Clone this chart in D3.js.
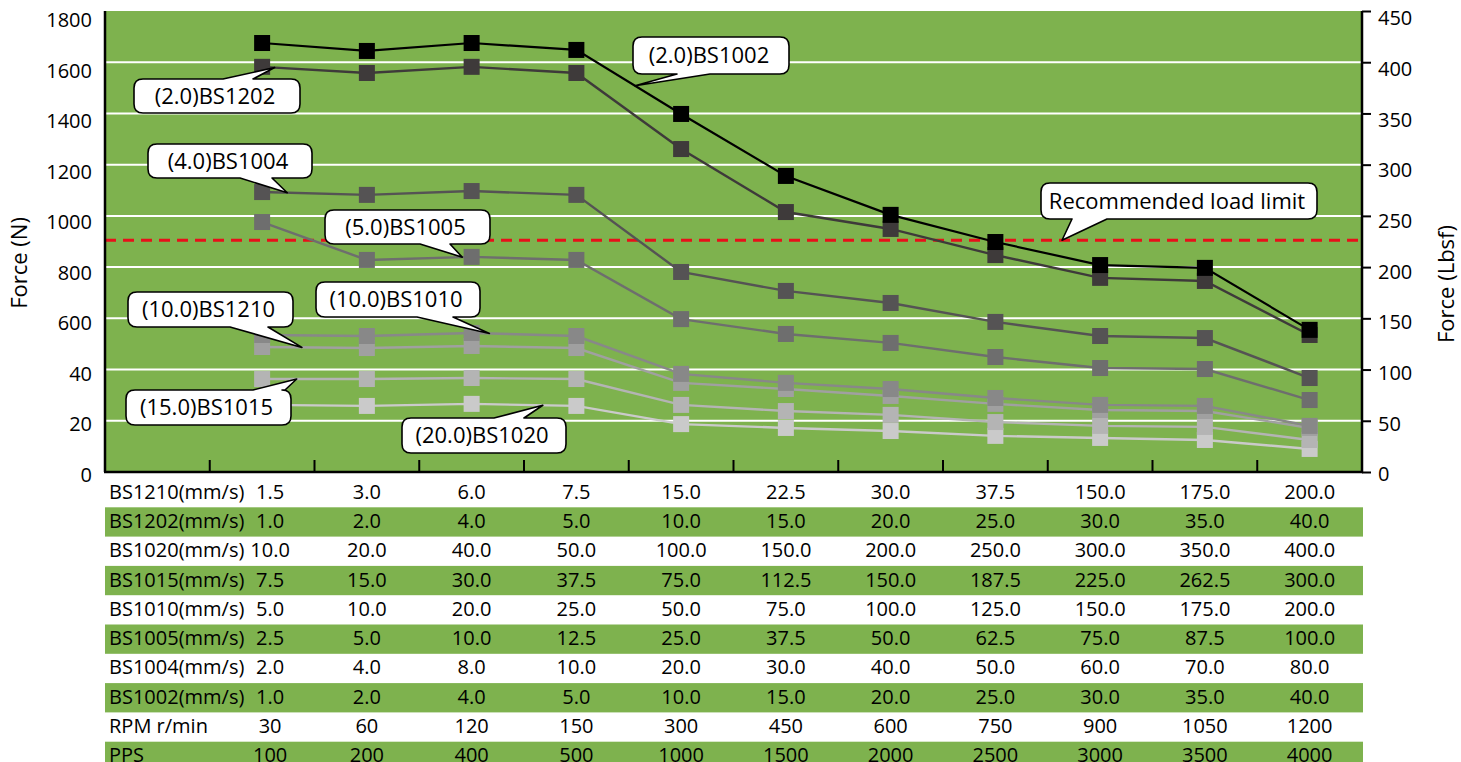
<!DOCTYPE html>
<html>
<head>
<meta charset="utf-8">
<script src="https://cdn.jsdelivr.net/npm/d3@7"></script>
<style>
  body { margin: 0; background: #fff; }
  svg { font-family: 'Open Sans', sans-serif; }
</style>
</head>
<body>
<svg width="1461" height="762"></svg>
<script>
// speed table, one column per point on the chart
const pps = ['100', '200', '400', '500', '1000', '1500', '2000', '2500', '3000', '3500', '4000'];
const rpm = ['30', '60', '120', '150', '300', '450', '600', '750', '900', '1050', '1200'];
const bs1210Speed = ['1.5', '3.0', '6.0', '7.5', '15.0', '22.5', '30.0', '37.5', '150.0', '175.0', '200.0'];
const bs1202Speed = ['1.0', '2.0', '4.0', '5.0', '10.0', '15.0', '20.0', '25.0', '30.0', '35.0', '40.0'];
const bs1020Speed = ['10.0', '20.0', '40.0', '50.0', '100.0', '150.0', '200.0', '250.0', '300.0', '350.0', '400.0'];
const bs1015Speed = ['7.5', '15.0', '30.0', '37.5', '75.0', '112.5', '150.0', '187.5', '225.0', '262.5', '300.0'];
const bs1010Speed = ['5.0', '10.0', '20.0', '25.0', '50.0', '75.0', '100.0', '125.0', '150.0', '175.0', '200.0'];
const bs1005Speed = ['2.5', '5.0', '10.0', '12.5', '25.0', '37.5', '50.0', '62.5', '75.0', '87.5', '100.0'];
const bs1004Speed = ['2.0', '4.0', '8.0', '10.0', '20.0', '30.0', '40.0', '50.0', '60.0', '70.0', '80.0'];
const bs1002Speed = ['1.0', '2.0', '4.0', '5.0', '10.0', '15.0', '20.0', '25.0', '30.0', '35.0', '40.0'];

// force (N)
const bs1002 = [1675, 1644, 1675, 1648, 1398, 1156, 1004, 898, 808, 797, 555];
const bs1202 = [1582, 1558, 1582, 1558, 1261, 1015, 949, 847, 758, 746, 535];
const bs1004 = [1093, 1082, 1097, 1082, 781, 707, 660, 586, 531, 523, 367];
const bs1005 = [976, 828, 840, 828, 597, 539, 504, 449, 406, 402, 281];
const bs1010 = [535, 531, 543, 531, 383, 348, 324, 289, 262, 258, 180];
const bs1210 = [488, 484, 492, 484, 348, 324, 297, 266, 242, 238, 172];
const bs1015 = [363, 363, 367, 363, 262, 238, 223, 195, 180, 176, 125];
const bs1020 = [262, 258, 266, 258, 187, 172, 160, 141, 133, 125, 90];

const loadLimit = 905;

// axis ticks (left labels as printed on the original)
const leftTicks = [0, 200, 400, 600, 800, 1000, 1200, 1400, 1600, 1800];
const leftTickLabels = ['0', '20', '40', '600', '800', '1000', '1200', '1400', '1600', '1800'];
const rightTicks = [0, 50, 100, 150, 200, 250, 300, 350, 400, 450];

const tableRows = [
  { label: 'BS1210(mm/s)', cells: bs1210Speed },
  { label: 'BS1202(mm/s)', cells: bs1202Speed },
  { label: 'BS1020(mm/s)', cells: bs1020Speed },
  { label: 'BS1015(mm/s)', cells: bs1015Speed },
  { label: 'BS1010(mm/s)', cells: bs1010Speed },
  { label: 'BS1005(mm/s)', cells: bs1005Speed },
  { label: 'BS1004(mm/s)', cells: bs1004Speed },
  { label: 'BS1002(mm/s)', cells: bs1002Speed },
  { label: 'RPM r/min', cells: rpm },
  { label: 'PPS', cells: pps },
];

// drawn lightest first so darker series sit on top
const series = [
  { name: 'BS1020', values: bs1020, color: '#cacaca' },
  { name: 'BS1015', values: bs1015, color: '#b4b4b4' },
  { name: 'BS1210', values: bs1210, color: '#a0a0a0' },
  { name: 'BS1010', values: bs1010, color: '#888888' },
  { name: 'BS1005', values: bs1005, color: '#6e6e6e' },
  { name: 'BS1004', values: bs1004, color: '#555354' },
  { name: 'BS1202', values: bs1202, color: '#3e3a3a' },
  { name: 'BS1002', values: bs1002, color: '#000000' },
];

const svg = d3.select('svg');
const GREEN = '#7eb24e';
const PLOT = { LEFT: 105, RIGHT: 1362, TOP: 11, BOTTOM: 472 };
const TABLE_TOP = 478;
const ROW_H = 29.3;
const FONT = 20;
const BIG_FONT = 22;

// scales: first band is the row-label column of the table
const x = d3.scaleBand().domain(['label', ...pps]).range([PLOT.LEFT, PLOT.RIGHT]);
const y = d3.scaleLinear().domain([0, 1800]).range([PLOT.BOTTOM, PLOT.TOP]);
// tick labels sit slightly off the gridlines in the original
const yLabel = d3.scaleLinear().domain([0, 1800]).range([475, 20.5]);
const yRight = d3.scaleLinear().domain([0, 450]).range([PLOT.BOTTOM, PLOT.TOP]);
const yRightLabel = d3.scaleLinear().domain([0, 450]).range([474.5, 18.5]);
const row = d3.scaleBand().domain(tableRows.map(d => d.label))
  .range([TABLE_TOP, TABLE_TOP + ROW_H * tableRows.length]);

const cx = i => x(pps[i]) + x.bandwidth() / 2;

// plot background + gridlines
svg.append('rect')
  .attr('x', PLOT.LEFT).attr('y', PLOT.TOP)
  .attr('width', PLOT.RIGHT - PLOT.LEFT).attr('height', PLOT.BOTTOM - PLOT.TOP)
  .attr('fill', GREEN);

svg.append('g')
  .selectAll('line')
  .data(leftTicks.filter(d => d > 0 && d < 1800))
  .join('line')
  .attr('x1', PLOT.LEFT).attr('x2', PLOT.RIGHT)
  .attr('y1', d => y(d)).attr('y2', d => y(d))
  .attr('stroke', '#fff').attr('stroke-width', 2);

// recommended load limit
svg.append('line')
  .attr('x1', PLOT.LEFT).attr('x2', PLOT.RIGHT)
  .attr('y1', y(loadLimit)).attr('y2', y(loadLimit))
  .attr('stroke', '#e8101a').attr('stroke-width', 3)
  .attr('stroke-dasharray', '11,7');

// series
const line = d3.line()
  .x((d, i) => cx(i))
  .y(d => y(d));

const sg = svg.append('g')
  .selectAll('g')
  .data(series)
  .join('g');

sg.append('path')
  .attr('fill', 'none')
  .attr('stroke', d => d.color)
  .attr('stroke-width', d => (d.name === 'BS1002' ? 2.2 : 2.4))
  .attr('d', d => line(d.values));

const MS = 16;
sg.selectAll('rect')
  .data(d => d.values.map((v, i) => ({ v, i, color: d.color })))
  .join('rect')
  .attr('x', d => cx(d.i) - MS / 2)
  .attr('y', d => y(d.v) - MS / 2)
  .attr('width', MS).attr('height', MS)
  .attr('fill', d => d.color);

// axes
svg.append('line')
  .attr('x1', PLOT.LEFT).attr('x2', PLOT.LEFT)
  .attr('y1', PLOT.TOP).attr('y2', PLOT.BOTTOM)
  .attr('stroke', '#000').attr('stroke-width', 2.5);

svg.append('g')
  .selectAll('line')
  .data(pps)
  .join('line')
  .attr('x1', d => x(d)).attr('x2', d => x(d))
  .attr('y1', PLOT.BOTTOM).attr('y2', PLOT.BOTTOM - 12)
  .attr('stroke', '#000').attr('stroke-width', 2);

svg.append('line')
  .attr('x1', PLOT.LEFT - 1).attr('x2', PLOT.RIGHT + 1)
  .attr('y1', PLOT.BOTTOM).attr('y2', PLOT.BOTTOM)
  .attr('stroke', '#000').attr('stroke-width', 2.5);

const leftAxis = svg.append('g')
  .attr('transform', `translate(${PLOT.LEFT - 13},0)`)
  .call(d3.axisLeft(yLabel)
    .tickValues(leftTicks)
    .tickFormat((d, i) => leftTickLabels[i])
    .tickSize(0)
    .tickPadding(0));
leftAxis.select('.domain').remove();
leftAxis.selectAll('text')
  .attr('font-size', FONT).attr('font-family', 'Open Sans').attr('fill', '#000');

const rightAxis = svg.append('g')
  .attr('transform', `translate(${PLOT.RIGHT},0)`)
  .call(d3.axisRight(yRight).tickValues(rightTicks).tickSize(9).tickFormat(''));
rightAxis.select('.domain').attr('stroke-width', 2.5).attr('d', `M0,${PLOT.TOP}V${PLOT.BOTTOM}`);
rightAxis.selectAll('line').attr('stroke-width', 2);

svg.append('g')
  .attr('transform', `translate(${PLOT.RIGHT + 16},0)`)
  .call(d3.axisRight(yRightLabel).tickValues(rightTicks).tickSize(0).tickPadding(0))
  .call(g => g.select('.domain').remove())
  .selectAll('text')
  .attr('font-size', FONT).attr('font-family', 'Open Sans').attr('fill', '#000');

svg.append('text')
  .attr('transform', 'translate(27,263) rotate(-90)')
  .attr('text-anchor', 'middle')
  .attr('font-size', BIG_FONT)
  .text('Force (N)');

svg.append('text')
  .attr('transform', 'translate(1454,284) rotate(-90)')
  .attr('text-anchor', 'middle')
  .attr('font-size', BIG_FONT)
  .text('Force (Lbsf)');

// speed table
const tg = svg.append('g')
  .selectAll('g')
  .data(tableRows)
  .join('g')
  .attr('transform', d => `translate(0,${row(d.label)})`);

tg.filter((d, i) => i % 2 === 1)
  .append('rect')
  .attr('x', PLOT.LEFT).attr('width', PLOT.RIGHT + 1 - PLOT.LEFT)
  .attr('height', row.bandwidth())
  .attr('fill', GREEN);

tg.append('text')
  .attr('x', PLOT.LEFT + 4)
  .attr('y', row.bandwidth() / 2 - 1)
  .attr('dy', '0.35em')
  .attr('font-size', FONT)
  .text(d => d.label);

tg.selectAll('text.cell')
  .data(d => d.cells)
  .join('text')
  .attr('class', 'cell')
  .attr('x', (d, i) => cx(i) + (i === 0 ? 8 : 0))
  .attr('y', row.bandwidth() / 2 - 1)
  .attr('dy', '0.35em')
  .attr('text-anchor', 'middle')
  .attr('font-size', FONT)
  .text(d => d);

// callouts: rounded box with a wedge pointing at a spot on a line
const callouts = [
  { text: '(2.0)BS1202', series: 'BS1202', seg: 0, t: 0.12, box: [134, 79, 300, 113], side: 'top', base: [223, 253] },
  { text: '(4.0)BS1004', series: 'BS1004', seg: 0, t: 0.24, box: [148, 144, 312, 178], side: 'bottom', base: [240, 272] },
  { text: '(5.0)BS1005', series: 'BS1005', seg: 1, t: 0.91, box: [325, 210, 490, 244], side: 'bottom', base: [420, 450] },
  { text: '(10.0)BS1210', series: 'BS1210', seg: 0, t: 0.38, box: [128, 292, 293, 327], side: 'bottom', base: [230, 268] },
  { text: '(10.0)BS1010', series: 'BS1010', seg: 2, t: 0.17, box: [316, 282, 480, 317], side: 'bottom', base: [417, 453] },
  { text: '(15.0)BS1015', series: 'BS1015', seg: 0, t: 0.33, box: [126, 390, 291, 425], side: 'top', base: [253, 285] },
  { text: '(20.0)BS1020', series: 'BS1020', seg: 2, t: 0.68, box: [402, 418, 566, 453], side: 'top', base: [494, 524] },
  { text: '(2.0)BS1002', series: 'BS1002', seg: 3, t: 0.56, box: [633, 37, 789, 74], side: 'bottom', base: [677, 710] },
];

callouts.forEach(c => {
  const s = series.find(d => d.name === c.series);
  const x0 = cx(c.seg), x1 = cx(c.seg + 1);
  const v = s.values[c.seg] + c.t * (s.values[c.seg + 1] - s.values[c.seg]);
  c.tip = [x0 + c.t * (x1 - x0), y(v)];
});
callouts.push({
  text: 'Recommended load limit', box: [1041, 183, 1317, 219], side: 'bottom',
  base: [1072, 1107], tip: [1062, y(loadLimit)],
});

function calloutPath(c) {
  const [x0, y0, x1, y1] = c.box;
  const r = 9;
  const [b1, b2] = c.base;
  const [tx, ty] = c.tip;
  let p = `M${x0 + r},${y0}`;
  if (c.side === 'top') p += `L${b1},${y0}L${tx},${ty}L${b2},${y0}`;
  p += `L${x1 - r},${y0}Q${x1},${y0} ${x1},${y0 + r}`;
  p += `L${x1},${y1 - r}Q${x1},${y1} ${x1 - r},${y1}`;
  if (c.side === 'bottom') p += `L${b2},${y1}L${tx},${ty}L${b1},${y1}`;
  p += `L${x0 + r},${y1}Q${x0},${y1} ${x0},${y1 - r}`;
  p += `L${x0},${y0 + r}Q${x0},${y0} ${x0 + r},${y0}Z`;
  return p;
}

const cg = svg.append('g')
  .selectAll('g')
  .data(callouts)
  .join('g');

cg.append('path')
  .attr('d', calloutPath)
  .attr('fill', '#fff')
  .attr('stroke', '#000')
  .attr('stroke-width', 1.6)
  .attr('stroke-linejoin', 'round');

cg.append('text')
  .attr('x', d => (d.box[0] + d.box[2]) / 2 - 2)
  .attr('y', d => (d.box[1] + d.box[3]) / 2)
  .attr('dy', '0.35em')
  .attr('text-anchor', 'middle')
  .attr('font-size', BIG_FONT)
  .text(d => d.text);
</script>
</body>
</html>
